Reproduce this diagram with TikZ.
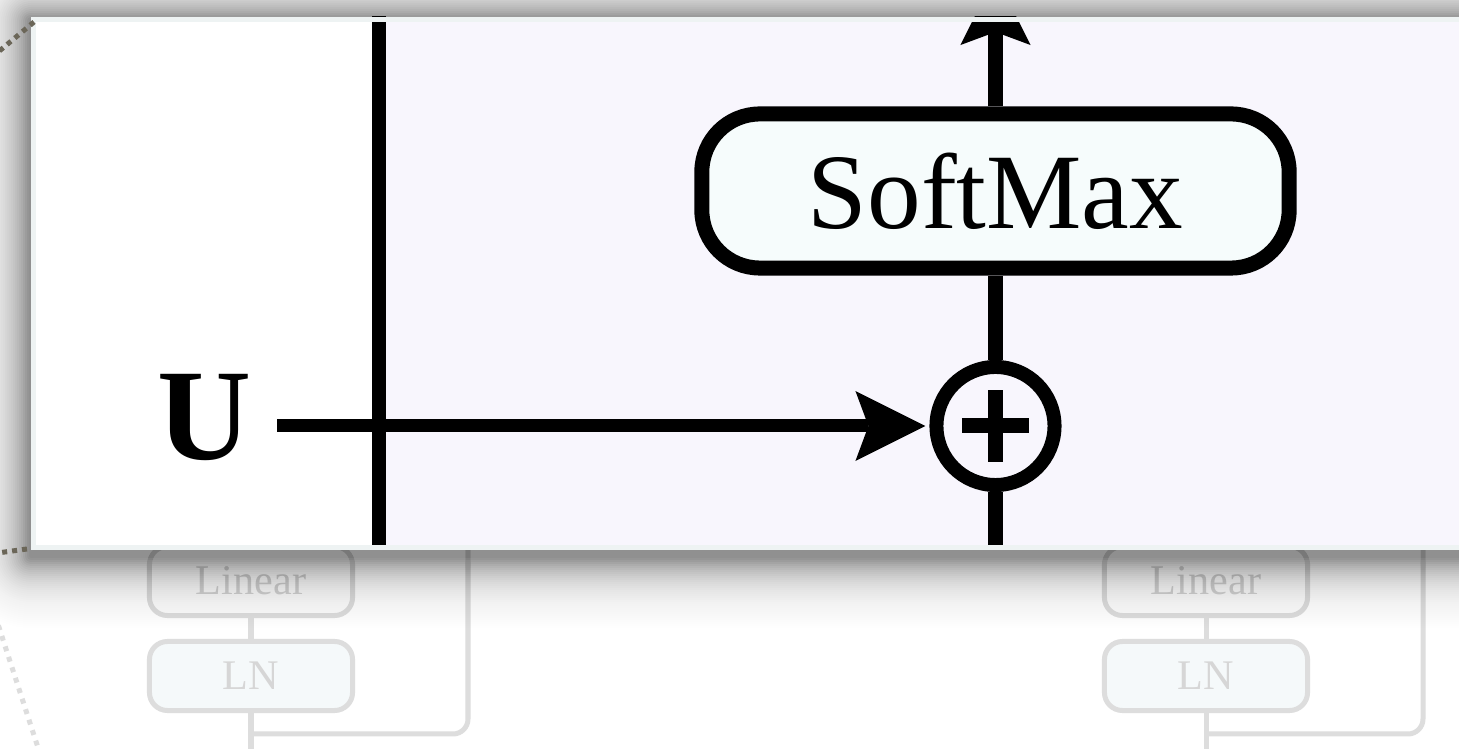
\documentclass[tikz,border=0pt]{standalone}
\usepackage{fontspec}
\setmainfont{Liberation Serif}
\usetikzlibrary{arrows.meta}
\definecolor{lav}{RGB}{248,246,253}
\definecolor{panelborder}{RGB}{238,243,243}
\definecolor{smfill}{RGB}{246,252,252}
\definecolor{fadestroke}{RGB}{221,221,221}
\definecolor{fadetext}{RGB}{214,214,214}
\definecolor{lnfill}{RGB}{245,249,250}
\definecolor{linfill}{RGB}{252,252,252}
\definecolor{darkdot}{RGB}{107,102,88}
\definecolor{lightdot}{RGB}{221,221,221}
\tikzset{
  fadebox/.style={draw=fadestroke, line width=0.05cm, rounded corners=0.18cm,
    minimum width=2.03cm, minimum height=0.69cm, inner sep=0pt,
    text=fadetext, font=\fontsize{12}{14}\selectfont},
  fadeline/.style={draw=fadestroke, line width=0.05cm},
  mainline/.style={draw=black, line width=0.14cm},
  smbox/.style={draw=black, fill=smfill, line width=0.15cm, rounded corners=0.58cm,
    minimum width=5.87cm, minimum height=1.54cm, inner sep=0pt,
    font=\fontsize{30.5}{36}\selectfont},
  sumnode/.style={circle, draw=black, line width=0.14cm, minimum size=1.18cm, inner sep=0pt},
  bigtip/.tip={Stealth[length=0.7cm, width=0.7cm, inset=0.13cm, line width=0pt]},
  darkdots/.style={draw=darkdot, line width=0.05cm, dash pattern=on 0.05cm off 0.05cm},
  lightdots/.style={draw=lightdot, line width=0.05cm, dash pattern=on 0.05cm off 0.06cm}
}
\begin{document}
\begin{tikzpicture}[x=0.01cm, y=-0.01cm]
\clip (0,0) rectangle (1459,749);
\fill[white] (0,0) rectangle (1459,749);
% faded background modules
\foreach \dx/\nm in {0/a,955/b} {
  \node[fadebox, fill=linfill] (lin\nm) at ({251+\dx},581) {Linear};
  \node[fadebox, fill=lnfill] (ln\nm) at ({251+\dx},676) {LN};
  \draw[fadeline] (lin\nm.south) -- (ln\nm.north);
  \coordinate (lnbot\nm) at ({251+\dx},760);
  \draw[fadeline] (ln\nm.south) -- (lnbot\nm);
  \coordinate (brtop\nm) at ({468+\dx},540);
  \coordinate (brcorner\nm) at ({468+\dx},734);
  \coordinate (brend\nm) at ({251+\dx},734);
  \draw[fadeline, rounded corners=0.15cm] (brtop\nm) -- (brcorner\nm) -- (brend\nm);
}
\draw[lightdots] (-5,615) -- (42,760);
% shadow
\foreach \k in {1,...,40} {
  \pgfmathsetmacro\sa{0.042*exp(-\k/12)}
  \pgfmathsetmacro\rr{0.02*\k}
  \fill[black, fill opacity=\sa, rounded corners=\rr cm]
    ({31-2*\k},{21-2*\k}) rectangle (1700,{556+2*\k});
}
% panel
\fill[white] (31,17) rectangle (1600,550);
\fill[lav] (379,17) rectangle (1600,550);
\begin{scope}
  \clip (31,17) rectangle (1600,550);
  \node[font=\bfseries\fontsize{37}{44}\selectfont, anchor=base, inner sep=0pt] (U) at (204,460) {U};
  \node[smbox] (sm) at (995.5,191) {SoftMax};
  \node[sumnode] (sum) at (995.5,426) {};
  \coordinate (vtop) at (379,0);
  \coordinate (vbot) at (379,560);
  \draw[mainline] (vtop) -- (vbot);
  \coordinate (uin) at (277,426);
  \draw[mainline, line width=0.13cm, -{bigtip}, shorten >=0.04cm] (uin) -- (sum.west);
  \coordinate (sbot) at (995.5,560);
  \draw[mainline] (sbot) -- (sum.south);
  \draw[mainline] (sum.north) -- (sm.south);
  \coordinate (out) at (995.5,-25);
  \draw[mainline, -{bigtip}] (sm.north) -- (out);
  \draw[line width=0.15cm] ([xshift=-0.335cm]sum.center) -- ([xshift=0.335cm]sum.center);
  \draw[line width=0.15cm] ([yshift=0.355cm]sum.center) -- ([yshift=-0.355cm]sum.center);
\end{scope}
\draw[panelborder, line width=0.05cm] (33.5,19.5) rectangle (1600,547.5);
% magnification guide dots
\draw[darkdots] (34,22) -- (-15,63);
\draw[darkdots] (27,549) -- (-10,554);
\end{tikzpicture}
\end{document}
